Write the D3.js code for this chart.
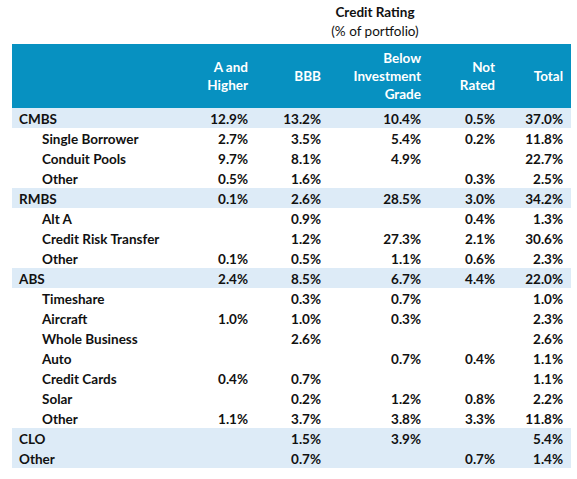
<!DOCTYPE html>
<html><head><meta charset="utf-8">
<script src="https://cdn.jsdelivr.net/npm/d3@7"></script>
<style>body{margin:0;background:#fff}svg{display:block}text{font-family:Lato,"Open Sans",sans-serif}</style>
</head><body><svg id="c" width="577" height="479"></svg>
<script>
const columns = [["A and","Higher"],["BBB"],["Below","Investment","Grade"],["Not","Rated"],["Total"]];
const categories = ["CMBS","Single Borrower","Conduit Pools","Other","RMBS","Alt A","Credit Risk Transfer","Other","ABS","Timeshare","Aircraft","Whole Business","Auto","Credit Cards","Solar","Other","CLO","Other"];
const level = [0,1,1,1,0,1,1,1,0,1,1,1,1,1,1,1,0,0];
const aAndHigher = [12.9,2.7,9.7,0.5,0.1,null,null,0.1,2.4,null,1.0,null,null,0.4,null,1.1,null,null];
const bbb = [13.2,3.5,8.1,1.6,2.6,0.9,1.2,0.5,8.5,0.3,1.0,2.6,null,0.7,0.2,3.7,1.5,0.7];
const belowIG = [10.4,5.4,4.9,null,28.5,null,27.3,1.1,6.7,0.7,0.3,null,0.7,null,1.2,3.8,3.9,null];
const notRated = [0.5,0.2,null,0.3,3.0,0.4,2.1,0.6,4.4,null,null,null,0.4,null,0.8,3.3,null,0.7];
const total = [37.0,11.8,22.7,2.5,34.2,1.3,30.6,2.3,22.0,1.0,2.3,2.6,1.1,1.1,2.2,11.8,5.4,1.4];
const titleLines = ["Credit Rating","(% of portfolio)"];

const series = [aAndHigher,bbb,belowIG,notRated,total];
const svg = d3.select("#c");
const left = 12, right = 571;
const y = d3.scaleBand().domain(d3.range(categories.length)).range([108, 108 + 20*categories.length]);
const x = d3.scaleOrdinal().domain(d3.range(5)).range([248, 321, 421, 495, 563]);
const fmt = d3.format(".1f");
const fs = 13.5;

svg.selectAll("text.title").data(titleLines).join("text")
  .attr("x", 375).attr("y", (d,i)=>17+i*19).attr("text-anchor","middle")
  .attr("font-size", fs).attr("font-weight",(d,i)=>i?400:700).attr("fill","#111").text(d=>d);

svg.append("rect").attr("x",left).attr("y",44).attr("width",right-left).attr("height",64).attr("fill","#0791C1");

columns.forEach((lines,ci)=>{
  const n = lines.length, lh = 18, cy = 76;
  lines.forEach((t,li)=>{
    svg.append("text").attr("x",x(ci)).attr("y", cy - (n-1)*lh/2 + li*lh + 5)
      .attr("text-anchor","end").attr("font-size",fs).attr("font-weight",700).attr("fill","#fff").text(t);
  });
});

const rows = svg.selectAll("g.row").data(categories.map((c,i)=>({c,i}))).join("g").attr("class","row");
rows.filter(d=>level[d.i]===0).append("rect").attr("x",left).attr("y",d=>y(d.i)).attr("width",right-left)
  .attr("height",y.bandwidth()).attr("fill","#DDEBF7");
rows.append("text").attr("x",d=>level[d.i]?42:19).attr("y",d=>y(d.i)+16)
  .attr("font-size",fs).attr("font-weight",700).attr("fill","#111").text(d=>d.c);
series.forEach((s,ci)=>{
  rows.filter(d=>s[d.i]!=null).append("text").attr("x",x(ci)).attr("y",d=>y(d.i)+16)
    .attr("text-anchor","end").attr("font-size",fs).attr("font-weight",700).attr("fill","#111")
    .text(d=>fmt(s[d.i])+"%");
});
</script></body></html>
